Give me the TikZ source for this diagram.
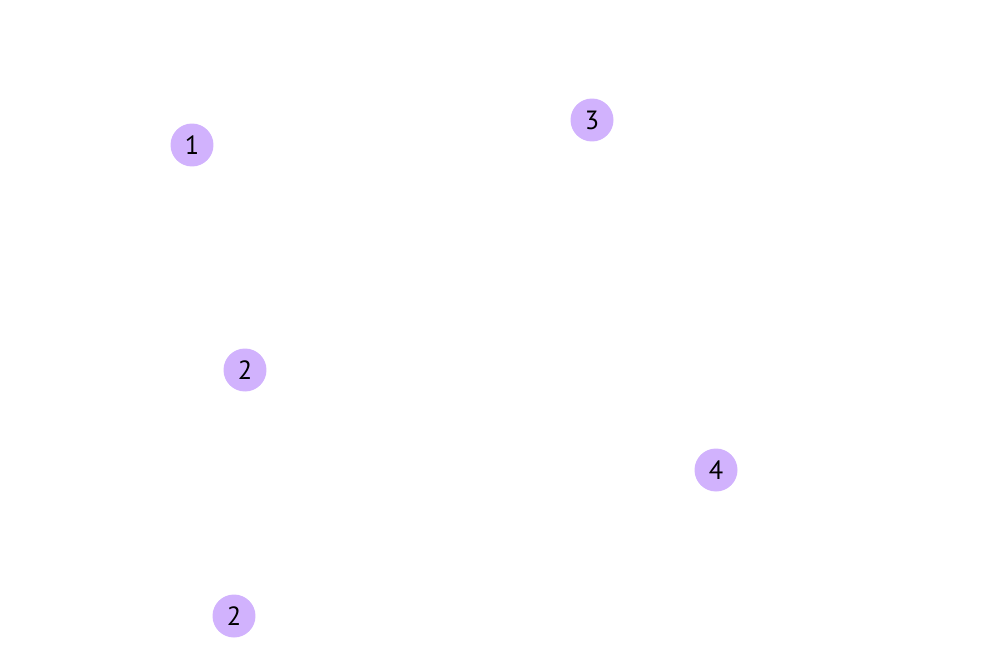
\documentclass[tikz,border=0pt]{standalone}
\usepackage{fontspec}
\setmainfont{PT Sans}
\definecolor{badge}{HTML}{D1B2FD}
\begin{document}
\begin{tikzpicture}[x=0.02cm,y=-0.02cm,
  badgenode/.style={circle,fill=badge,draw=none,minimum size=0.86cm,inner sep=0pt,font=\fontsize{15}{18}\selectfont,text=black}]
\useasboundingbox (0,0) rectangle (1000,669);
\node[badgenode] (b1) at (192,145) {1};
\node[badgenode] (b3) at (592,120) {3};
\node[badgenode] (b2a) at (245,370) {2};
\node[badgenode] (b4) at (716,470) {4};
\node[badgenode] (b2b) at (234,616) {2};
\end{tikzpicture}
\end{document}
